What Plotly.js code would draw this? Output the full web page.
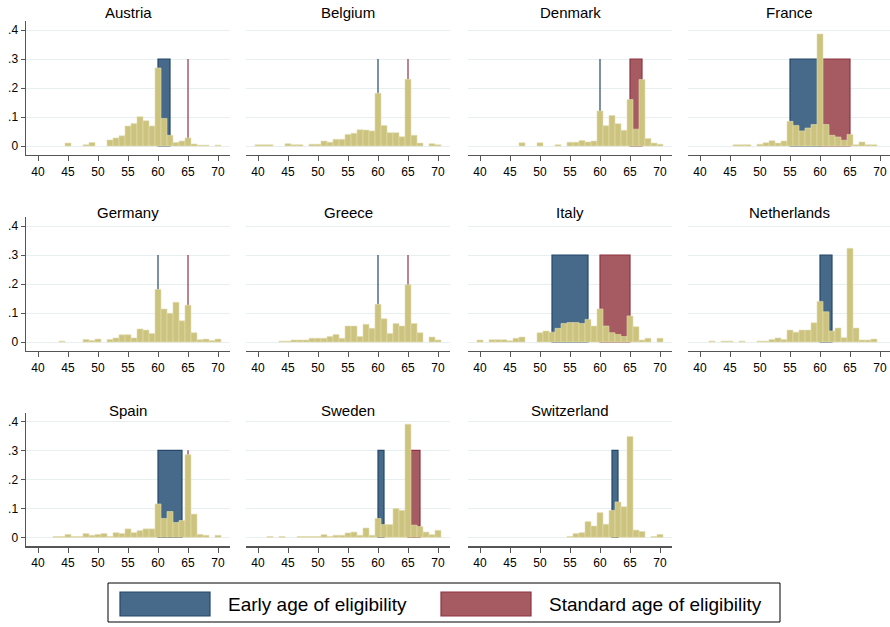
<!DOCTYPE html>
<html>
<head>
<meta charset="utf-8">
<script src="https://cdn.plot.ly/plotly-3.0.1.min.js"></script>
<style>html,body{margin:0;padding:0;background:#fff;}#chart{width:890px;height:627px;}</style>
</head>
<body>
<div id="chart"></div>
<script>
// ---------- DATA ----------
const countries = ["Austria","Belgium","Denmark","France","Germany","Greece","Italy","Netherlands","Spain","Sweden","Switzerland"];
const ages = [40,41,42,43,44,45,46,47,48,49,50,51,52,53,54,55,56,57,58,59,60,61,62,63,64,65,66,67,68,69,70];
const xTickVals = [40,45,50,55,60,65,70];
const yTickVals = [0,0.1,0.2,0.3,0.4];
const yTickText = ["0",".1",".2",".3",".4"];

// share of retirements by age (null = no bar)
const austria     = [null,null,null,null,null,0.010,null,null,0.004,0.012,null,null,0.021,0.028,0.035,0.069,0.078,0.101,0.087,0.069,0.269,0.095,0.037,0.012,0.017,0.028,0.007,0.003,0.003,null,0.003];
const belgium     = [0.004,0.004,0.004,null,null,0.008,0.004,0.004,null,0.006,0.006,0.017,0.013,0.023,0.023,0.040,0.044,0.056,0.055,0.052,0.182,0.071,0.046,0.046,0.032,0.230,0.037,0.010,null,0.008,0.004];
const denmark     = [null,null,null,null,null,null,null,0.011,null,null,0.011,null,null,0.004,null,0.013,0.013,0.019,0.014,0.017,0.121,0.070,0.105,0.077,0.054,0.160,0.058,0.229,0.026,0.010,0.006];
const france      = [null,null,null,null,null,null,0.004,0.004,0.004,null,0.006,0.011,0.018,0.010,0.017,0.085,0.071,0.052,0.062,0.074,0.386,0.074,0.037,0.031,0.020,0.040,0.004,0.014,0.004,0.004,null];
const germany     = [null,null,null,null,0.003,null,null,null,0.009,0.005,0.010,null,0.009,0.014,0.025,0.025,0.014,0.045,0.041,0.029,0.181,0.114,0.099,0.137,0.073,0.127,0.032,0.008,0.010,0.005,0.010];
const greece      = [null,null,null,null,0.003,0.003,0.007,0.007,0.007,0.013,0.013,0.013,0.019,0.026,0.013,0.055,0.055,0.019,0.061,0.047,0.130,0.080,0.029,0.064,0.055,0.197,0.064,0.032,null,0.017,0.007];
const italy       = [0.007,null,0.008,0.008,0.008,0.004,0.013,0.017,null,null,0.032,0.038,0.034,0.047,0.064,0.067,0.067,0.064,0.078,0.055,0.114,0.055,0.032,0.026,0.019,0.090,0.053,0.007,0.013,null,0.013];
const netherlands = [null,null,0.003,null,0.003,0.003,null,0.003,null,null,0.003,0.003,0.009,0.014,0.009,0.041,0.034,0.041,0.041,0.066,0.140,0.104,0.038,0.048,0.015,0.323,0.048,0.007,0.007,0.010,null];
const spain       = [null,null,null,0.003,0.003,0.010,0.003,0.003,0.013,0.007,0.010,0.013,0.003,0.016,0.013,0.029,0.016,0.023,0.029,0.029,0.115,0.065,0.089,0.051,0.058,0.285,0.080,0.010,0.007,null,0.007];
const sweden      = [null,null,0.003,null,0.003,null,null,0.003,0.003,0.003,0.003,0.009,0.003,0.007,0.007,0.015,0.018,0.007,0.032,0.007,0.065,0.044,0.044,0.099,0.093,0.390,0.042,0.037,0.018,0.009,0.024];
const switzerland = [null,null,null,null,null,null,null,null,null,null,null,null,null,null,null,0.003,0.013,0.016,0.054,0.039,0.085,0.045,0.093,0.122,0.105,0.348,0.025,0.020,null,0.003,0.010];
const series = [austria,belgium,denmark,france,germany,greece,italy,netherlands,spain,sweden,switzerland];

// eligibility age ranges [start, end] (start == end is drawn as a line)
const earlyStart    = [60,60,60,55,60,60,52,60,60,60,62];
const earlyEnd      = [62,60,60,60,60,60,58,62,64,61,63];
const standardStart = [65,65,65,60,65,65,60,65,65,65,65];
const standardEnd   = [65,65,67,65,65,65,65,65,65,67,65];
const rectHeight = 0.3;
const legendLabels = ["Early age of eligibility","Standard age of eligibility"];

// ---------- STYLE / LAYOUT ----------
const W = 890, H = 627;
const colsPx = [[26,230],[246,450],[468,672],[688,890]];
const rowsPx = [[21.3,154.7],[217.3,350.7],[412.6,546]];
const titleY = [12.5,212,410];
const pxPerYear = 6;
const barColor = "#CCC37F", barLine = "#E3DDB0";
const blueFill = "#476A8B", blueLine = "#24476B";
const redFill  = "#A65B62", redLine  = "#8E3440";
const font = "Arial, 'Liberation Sans', sans-serif";

const traces = [];
const shapes = [];
const annotations = [];
const layout = {
  width: W, height: H,
  margin: {l:0,r:0,t:0,b:0},
  paper_bgcolor: "#fff", plot_bgcolor: "#fff",
  showlegend: false,
  barmode: "overlay",
  font: {family: font, color: "#000"}
};

countries.forEach((name, i) => {
  const r = Math.floor(i/4), c = i % 4;
  const n = i + 1;
  const xa = "xaxis" + (n===1?"":n), ya = "yaxis" + (n===1?"":n);
  const xr = "x" + (n===1?"":n), yr = "y" + (n===1?"":n);
  const [l, rr] = colsPx[c];
  const [t, b] = rowsPx[r];
  layout[xa] = {
    domain: [l/W, rr/W], range: [38, 38 + (rr-l)/pxPerYear], anchor: yr,
    tickvals: xTickVals, ticks: "outside", ticklen: 5, tickwidth: 1, tickcolor: "#555",
    showline: true, linecolor: "#555", linewidth: 1.5, showgrid: false, zeroline: false,
    tickfont: {size: 12, family: font, color: "#000"}, fixedrange: true
  };
  layout[ya] = {
    domain: [1 - b/H, 1 - t/H], range: [-0.03, 0.43], anchor: xr,
    tickvals: yTickVals, ticktext: yTickText,
    showgrid: true, gridcolor: "#E7EFF1", gridwidth: 1, zeroline: false,
    showticklabels: c === 0, showline: c === 0, linecolor: "#555", linewidth: 1.5,
    ticks: c === 0 ? "outside" : "", ticklen: 4, tickcolor: "#555",
    tickfont: {size: 12, family: font, color: "#000"}, fixedrange: true
  };
  // eligibility rectangles (between gridlines and bars)
  shapes.push({type:"rect", layer:"between", xref:xr, yref:yr,
    x0: earlyStart[i], x1: earlyEnd[i], y0: 0, y1: rectHeight,
    fillcolor: blueFill, line:{color: blueLine, width: 1.2}});
  shapes.push({type:"rect", layer:"between", xref:xr, yref:yr,
    x0: standardStart[i], x1: standardEnd[i], y0: 0, y1: rectHeight,
    fillcolor: redFill, line:{color: redLine, width: 1.2}});
  traces.push({
    type: "bar", x: ages, y: series[i], width: 1, xaxis: xr, yaxis: yr,
    marker: {color: barColor, line: {color: barLine, width: 0.6}},
    hoverinfo: "x+y", name: name
  });
  annotations.push({
    text: name, xref: "paper", yref: "paper",
    x: ((l+rr)/2)/W, y: 1 - titleY[r]/H, xanchor: "center", yanchor: "middle",
    showarrow: false, font: {size: 15, family: font, color: "#000"}
  });
});

// legend (drawn with paper shapes + text)
const legBox = {x0:108, x1:780, y0:583, y1:622};
shapes.push({type:"rect", xref:"paper", yref:"paper",
  x0: legBox.x0/W, x1: legBox.x1/W, y0: 1-legBox.y1/H, y1: 1-legBox.y0/H,
  fillcolor:"#fff", line:{color:"#000", width:1}});
shapes.push({type:"rect", xref:"paper", yref:"paper",
  x0: 120/W, x1: 210/W, y0: 1-616/H, y1: 1-592/H,
  fillcolor: blueFill, line:{color: blueLine, width: 1.2}});
shapes.push({type:"rect", xref:"paper", yref:"paper",
  x0: 441/W, x1: 531/W, y0: 1-616/H, y1: 1-592/H,
  fillcolor: redFill, line:{color: redLine, width: 1.2}});
annotations.push({text: legendLabels[0], xref:"paper", yref:"paper", x: 226/W, y: 1-604/H,
  xanchor:"left", yanchor:"middle", showarrow:false, font:{size:19, family:font, color:"#000"}});
annotations.push({text: legendLabels[1], xref:"paper", yref:"paper", x: 547/W, y: 1-604/H,
  xanchor:"left", yanchor:"middle", showarrow:false, font:{size:19, family:font, color:"#000"}});

layout.shapes = shapes;
layout.annotations = annotations;
Plotly.newPlot("chart", traces, layout, {displayModeBar:false, staticPlot:true});
</script>
</body>
</html>
